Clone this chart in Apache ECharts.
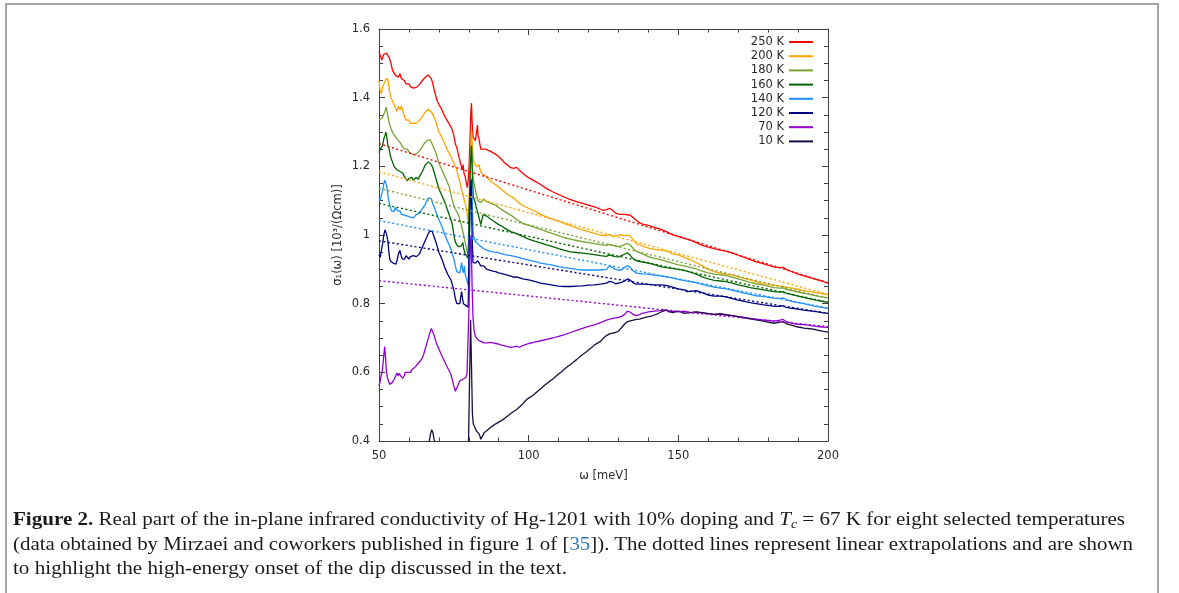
<!DOCTYPE html>
<html>
<head>
<meta charset="utf-8">
<script src="https://cdn.jsdelivr.net/npm/echarts@6/dist/echarts.min.js"></script>
<style>
html,body{margin:0;padding:0;background:#fff;width:1179px;height:593px;overflow:hidden;position:relative;}
#frame{position:absolute;left:5px;top:3px;width:1154px;height:620px;border:2px solid #a4a4a4;box-sizing:border-box;}
#chart{position:absolute;left:0;top:0;width:1179px;height:593px;}
#caption{position:absolute;left:13px;top:507px;font-family:"Liberation Serif","DejaVu Serif",serif;font-size:18.5px;color:#1a1a1a;}
#caption .ln{display:block;white-space:nowrap;height:24.5px;line-height:24.5px;transform-origin:0 50%;width:max-content;}
#caption .ref{color:#2a7ab8;}
#caption sub{font-size:12px;vertical-align:-3px;line-height:0;}
</style>
</head>
<body>
<div id="frame"></div>
<div id="chart"></div>
<div id="caption">
<span class="ln" data-w="1112"><b>Figure 2.</b> Real part of the in-plane infrared conductivity of Hg-1201 with 10% doping and <i>T</i><sub><i>c</i></sub> = 67 K for eight selected temperatures</span>
<span class="ln" data-w="1120">(data obtained by Mirzaei and coworkers published in figure 1 of [<span class="ref">35</span>]). The dotted lines represent linear extrapolations and are shown</span>
<span class="ln" data-w="554">to highlight the high-energy onset of the dip discussed in the text.</span>
</div>
<script>
// ---------- data ----------
const temperatures = ['250 K','200 K','180 K','160 K','140 K','120 K','70 K','10 K'];
const colors = ['#ff0000','#ffa500','#78a232','#006400','#1e90ff','#000080','#9400d3','#1b0f3f'];
const xTicks = [50,100,150,200];
const yTicks = [0.4,0.6,0.8,1.0,1.2,1.4,1.6];

const T250 = [[50,1.535],[50.5,1.52],[51,1.51],[51.5,1.525],[52,1.52],[52.5,1.53],[53,1.525],[53.5,1.515],[54,1.50],[54.5,1.48],[55,1.475],[55.5,1.465],[56,1.47],[56.5,1.46],[57,1.47],[57.5,1.455],[58,1.46],[58.5,1.45],[59,1.44],[59.5,1.435],[60,1.44],[60.5,1.432],[61,1.43],[61.5,1.428],[62,1.425],[62.5,1.43],[63,1.432],[63.5,1.438],[64,1.44],[64.5,1.45],[65,1.455],[65.5,1.46],[66,1.465],[66.5,1.466],[67,1.462],[67.5,1.455],[68,1.44],[68.5,1.42],[69,1.405],[69.5,1.39],[70,1.38],[71,1.365],[72,1.345],[73,1.33],[73.5,1.325],[74,1.315],[74.5,1.305],[75,1.29],[75.5,1.265],[76,1.255],[76.5,1.235],[77,1.23],[77.5,1.2],[77.8,1.19],[78.1,1.205],[78.4,1.18],[78.8,1.17],[79.2,1.15],[79.5,1.138],[79.8,1.16],[80.1,1.2],[80.4,1.28],[80.7,1.36],[80.9,1.384],[81.1,1.33],[81.4,1.285],[81.8,1.28],[82.2,1.275],[82.6,1.27],[82.9,1.32],[83.1,1.29],[83.4,1.28],[83.7,1.265],[84,1.25],[84.5,1.247],[85.5,1.25],[87,1.245],[88,1.24],[89,1.235],[90,1.228],[91,1.22],[92,1.21],[93,1.203],[94,1.196],[95,1.194],[96,1.197],[97,1.188],[98,1.18],[99,1.173],[100,1.167],[102,1.157],[104,1.147],[106,1.135],[108,1.126],[110,1.118],[112,1.11],[114,1.103],[116,1.097],[118,1.092],[120,1.087],[122,1.082],[124,1.075],[125,1.072],[126,1.074],[127,1.078],[128,1.072],[129,1.064],[130,1.061],[131,1.06],[132,1.06],[133,1.059],[134,1.057],[135,1.05],[136,1.042],[137,1.036],[138,1.032],[140,1.028],[142,1.022],[144,1.017],[146,1.01],[148,1.001],[150,0.996],[152,0.99],[154,0.985],[156,0.978],[158,0.97],[160,0.965],[162,0.96],[164,0.956],[166,0.953],[168,0.948],[170,0.941],[172,0.935],[174,0.928],[176,0.922],[178,0.917],[180,0.912],[182,0.907],[184,0.905],[185,0.906],[186,0.9],[188,0.893],[190,0.886],[192,0.881],[194,0.876],[196,0.871],[198,0.866],[200,0.86]];

const T200 = [[50,1.45],[50.4,1.42],[50.8,1.412],[51.2,1.43],[51.6,1.44],[52,1.445],[52.5,1.456],[53,1.45],[53.5,1.42],[54,1.40],[54.5,1.39],[55,1.38],[55.5,1.37],[56,1.36],[56.5,1.375],[57,1.365],[57.5,1.375],[58,1.37],[58.5,1.345],[59,1.335],[59.5,1.33],[60,1.335],[60.5,1.325],[61,1.322],[61.5,1.326],[62,1.322],[62.5,1.325],[63,1.33],[63.5,1.334],[64,1.338],[64.5,1.345],[65,1.352],[65.5,1.358],[66,1.362],[66.5,1.366],[67,1.365],[67.5,1.358],[68,1.35],[68.5,1.34],[69,1.33],[69.5,1.315],[70,1.30],[71,1.285],[72,1.265],[73,1.245],[74,1.23],[74.5,1.218],[75,1.21],[75.5,1.2],[76,1.19],[76.5,1.17],[77,1.155],[77.5,1.135],[78,1.12],[78.5,1.10],[79,1.085],[79.5,1.06],[79.8,1.035],[80.1,1.1],[80.5,1.22],[80.9,1.31],[81.2,1.26],[81.5,1.22],[82,1.205],[82.5,1.21],[83,1.198],[83.4,1.205],[83.8,1.19],[84.3,1.18],[85,1.176],[86,1.168],[87,1.16],[88,1.152],[89,1.146],[90,1.14],[91,1.132],[92,1.125],[93,1.118],[94,1.113],[95,1.108],[96,1.1],[97,1.092],[98,1.086],[100,1.078],[102,1.07],[104,1.06],[106,1.053],[108,1.046],[110,1.04],[112,1.033],[114,1.027],[116,1.021],[118,1.015],[120,1.01],[122,1.005],[124,1.0],[126,0.998],[127,1.002],[128,0.996],[129,0.997],[130,1.0],[131,1.0],[132,0.998],[133,1.0],[134,0.997],[135,0.985],[136,0.975],[138,0.968],[140,0.962],[142,0.958],[144,0.956],[146,0.954],[147,0.95],[148,0.945],[150,0.942],[152,0.935],[154,0.928],[156,0.92],[158,0.91],[160,0.9],[162,0.893],[164,0.889],[166,0.886],[168,0.884],[170,0.879],[172,0.874],[174,0.869],[176,0.864],[178,0.859],[180,0.856],[182,0.853],[184,0.852],[186,0.848],[188,0.845],[190,0.842],[192,0.838],[194,0.835],[196,0.832],[198,0.829],[200,0.826]];

const T180 = [[50,1.335],[50.5,1.33],[51,1.34],[51.5,1.345],[52,1.36],[52.4,1.373],[52.8,1.355],[53.2,1.335],[53.6,1.32],[54,1.31],[54.5,1.3],[55,1.292],[55.5,1.29],[56,1.28],[56.5,1.275],[57,1.27],[57.5,1.262],[58,1.265],[58.5,1.25],[59,1.245],[59.5,1.25],[60,1.242],[60.5,1.24],[61,1.236],[61.5,1.234],[62,1.233],[62.5,1.235],[63,1.24],[63.5,1.245],[64,1.25],[64.5,1.258],[65,1.265],[65.5,1.27],[66,1.275],[66.5,1.279],[67,1.278],[67.5,1.27],[68,1.26],[68.5,1.25],[69,1.24],[69.5,1.225],[70,1.21],[71,1.19],[72,1.17],[73,1.15],[73.5,1.14],[74,1.12],[74.5,1.1],[75,1.085],[75.5,1.075],[76,1.07],[76.5,1.06],[77,1.045],[77.5,1.03],[78,1.01],[78.5,0.99],[79,0.97],[79.5,0.95],[79.8,0.937],[80.1,1.05],[80.5,1.2],[80.9,1.262],[81.2,1.2],[81.5,1.16],[82,1.14],[82.5,1.12],[83,1.1],[83.5,1.105],[84,1.095],[84.5,1.1],[85,1.105],[85.5,1.1],[86,1.097],[87,1.094],[88,1.09],[89,1.087],[90,1.08],[91,1.074],[92,1.068],[93,1.063],[94,1.058],[95,1.052],[96,1.045],[97,1.04],[98,1.034],[100,1.028],[102,1.022],[104,1.016],[106,1.01],[108,1.004],[110,0.998],[112,0.992],[114,0.988],[116,0.984],[118,0.981],[120,0.978],[122,0.975],[124,0.972],[126,0.97],[127,0.973],[128,0.97],[129,0.968],[130,0.966],[131,0.968],[132,0.972],[133,0.976],[134,0.97],[135,0.96],[136,0.952],[138,0.945],[140,0.937],[142,0.932],[144,0.928],[146,0.923],[148,0.918],[150,0.913],[152,0.91],[154,0.906],[156,0.901],[158,0.895],[160,0.89],[162,0.886],[164,0.884],[166,0.882],[168,0.877],[170,0.872],[172,0.867],[174,0.862],[176,0.858],[178,0.855],[180,0.851],[182,0.847],[184,0.845],[185,0.846],[186,0.842],[188,0.838],[190,0.834],[192,0.83],[194,0.827],[196,0.823],[198,0.82],[200,0.817]];

const T160 = [[50,1.24],[50.4,1.25],[50.8,1.245],[51.2,1.26],[51.6,1.28],[52,1.29],[52.3,1.3],[52.6,1.285],[53,1.26],[53.4,1.25],[53.8,1.23],[54.2,1.22],[54.6,1.21],[55,1.2],[55.5,1.205],[56,1.19],[56.5,1.195],[57,1.185],[57.5,1.19],[58,1.18],[58.5,1.17],[59,1.165],[59.5,1.158],[60,1.165],[60.5,1.16],[61,1.168],[61.5,1.16],[62,1.165],[62.5,1.168],[63,1.162],[63.5,1.17],[64,1.175],[64.5,1.185],[65,1.195],[65.5,1.205],[66,1.21],[66.5,1.213],[67,1.212],[67.5,1.205],[68,1.195],[68.5,1.18],[69,1.165],[69.5,1.15],[70,1.135],[71,1.115],[72,1.095],[73,1.07],[74,1.045],[74.5,1.03],[75,1.0],[75.5,0.98],[76,0.972],[76.5,0.966],[77,0.962],[77.5,0.968],[78,0.978],[78.3,0.96],[78.8,0.945],[79.3,0.94],[79.8,0.932],[80.1,1.05],[80.5,1.2],[80.9,1.26],[81.2,1.17],[81.5,1.11],[82,1.1],[82.5,1.08],[83,1.065],[83.5,1.06],[84,1.03],[84.3,1.025],[84.8,1.06],[85.3,1.062],[86,1.055],[87,1.048],[88,1.042],[89,1.036],[90,1.03],[91,1.026],[92,1.02],[93,1.015],[94,1.01],[95,1.007],[96,1.004],[98,0.996],[100,0.988],[102,0.982],[104,0.977],[106,0.971],[108,0.966],[110,0.96],[112,0.955],[114,0.951],[116,0.949],[118,0.947],[120,0.945],[122,0.943],[124,0.94],[126,0.938],[127,0.942],[128,0.939],[129,0.937],[130,0.936],[131,0.94],[132,0.944],[133,0.948],[134,0.94],[135,0.93],[136,0.925],[138,0.921],[140,0.918],[142,0.914],[144,0.908],[146,0.905],[148,0.903],[150,0.9],[152,0.897],[154,0.892],[156,0.886],[158,0.878],[160,0.872],[162,0.868],[164,0.866],[166,0.864],[168,0.86],[170,0.855],[172,0.851],[174,0.847],[176,0.844],[178,0.841],[180,0.838],[182,0.835],[184,0.834],[185,0.835],[186,0.831],[188,0.826],[190,0.822],[192,0.818],[194,0.814],[196,0.81],[198,0.807],[200,0.804]];

const T140 = [[50,1.11],[50.4,1.1],[50.8,1.115],[51.2,1.13],[51.6,1.15],[52,1.16],[52.3,1.16],[52.6,1.14],[53,1.115],[53.4,1.095],[53.8,1.08],[54.2,1.07],[54.6,1.075],[55,1.068],[55.4,1.08],[55.8,1.082],[56.2,1.07],[56.6,1.065],[57,1.07],[57.5,1.06],[58,1.065],[58.5,1.058],[59,1.063],[59.5,1.055],[60,1.05],[60.5,1.052],[61,1.048],[61.5,1.05],[62,1.055],[62.5,1.06],[63,1.058],[63.5,1.063],[64,1.07],[64.5,1.077],[65,1.083],[65.5,1.09],[66,1.1],[66.5,1.108],[67,1.112],[67.5,1.105],[68,1.09],[68.5,1.08],[69,1.068],[69.5,1.055],[70,1.045],[71,1.025],[72,1.0],[73,0.98],[73.5,0.97],[74,0.96],[74.5,0.945],[75,0.932],[75.5,0.91],[76,0.893],[76.5,0.889],[77,0.89],[77.3,0.905],[77.6,0.92],[77.9,0.9],[78.2,0.89],[78.5,0.91],[78.8,0.885],[79.3,0.87],[79.8,0.855],[80.1,0.98],[80.5,1.12],[80.9,1.165],[81.2,1.08],[81.5,1.0],[82,0.985],[82.5,0.978],[83,0.982],[83.5,0.97],[84,0.965],[85,0.96],[86,0.956],[87,0.953],[88,0.951],[89,0.95],[90,0.948],[92,0.943],[94,0.94],[96,0.936],[98,0.931],[100,0.927],[102,0.923],[104,0.918],[106,0.915],[108,0.912],[110,0.908],[112,0.905],[114,0.903],[116,0.9],[118,0.898],[120,0.898],[122,0.898],[124,0.898],[126,0.9],[127,0.91],[127.5,0.915],[128,0.905],[129,0.9],[130,0.898],[131,0.898],[132,0.905],[133,0.911],[134,0.905],[135,0.895],[136,0.889],[138,0.887],[140,0.886],[142,0.883],[144,0.881],[146,0.878],[148,0.875],[150,0.871],[152,0.867],[154,0.864],[156,0.861],[158,0.856],[160,0.852],[162,0.848],[164,0.845],[166,0.843],[168,0.839],[170,0.835],[172,0.831],[174,0.827],[176,0.823],[178,0.821],[180,0.819],[182,0.816],[184,0.815],[185,0.817],[186,0.812],[188,0.807],[190,0.803],[192,0.8],[194,0.796],[196,0.792],[198,0.789],[200,0.786]];

const T120 = [[50,0.942],[50.4,0.935],[50.8,0.955],[51.2,0.975],[51.6,1.0],[52,1.015],[52.3,1.02],[52.6,1.0],[53,0.98],[53.3,0.95],[53.6,0.93],[54,0.922],[54.4,0.925],[54.8,0.918],[55.2,0.92],[55.6,0.915],[56,0.925],[56.5,0.945],[57,0.955],[57.4,0.94],[57.8,0.93],[58.2,0.935],[58.6,0.93],[59,0.94],[59.5,0.935],[60,0.93],[60.5,0.937],[61,0.933],[61.5,0.94],[62,0.936],[62.5,0.937],[63,0.94],[63.5,0.945],[64,0.955],[64.5,0.965],[65,0.975],[65.5,0.985],[66,0.995],[66.5,1.005],[67,1.012],[67.4,1.016],[67.8,1.01],[68.2,1.0],[68.6,0.99],[69,0.98],[69.5,0.965],[70,0.95],[71,0.93],[72,0.905],[73,0.885],[73.5,0.877],[74,0.87],[74.5,0.855],[75,0.84],[75.5,0.815],[76,0.8],[76.5,0.797],[77,0.8],[77.3,0.82],[77.6,0.835],[77.9,0.815],[78.2,0.8],[78.6,0.795],[79,0.795],[79.4,0.792],[79.8,0.79],[80.1,0.95],[80.5,1.12],[80.8,1.16],[81.1,1.0],[81.4,0.92],[81.8,0.925],[82.2,0.918],[82.6,0.915],[83,0.925],[83.5,0.927],[84,0.91],[84.5,0.905],[85,0.91],[86,0.9],[87,0.898],[88,0.895],[89,0.893],[90,0.89],[92,0.885],[94,0.88],[95,0.877],[96,0.878],[98,0.872],[100,0.869],[102,0.865],[104,0.86],[106,0.857],[108,0.854],[110,0.851],[112,0.85],[114,0.85],[116,0.851],[118,0.852],[120,0.854],[122,0.855],[124,0.857],[126,0.86],[127,0.865],[128,0.863],[129,0.858],[130,0.86],[131,0.862],[132,0.866],[133,0.872],[134,0.868],[135,0.86],[136,0.857],[138,0.857],[140,0.856],[142,0.855],[144,0.855],[146,0.853],[148,0.848],[150,0.843],[152,0.84],[153,0.835],[154,0.836],[156,0.838],[158,0.832],[160,0.825],[162,0.822],[164,0.822],[166,0.82],[168,0.815],[170,0.81],[172,0.807],[174,0.803],[176,0.8],[178,0.797],[180,0.795],[182,0.792],[184,0.792],[185,0.794],[186,0.789],[188,0.786],[190,0.784],[192,0.781],[194,0.779],[196,0.777],[198,0.774],[200,0.772]];

const T70 = [[50,0.56],[50.3,0.57],[50.6,0.585],[51,0.6],[51.3,0.62],[51.6,0.65],[51.9,0.675],[52.2,0.64],[52.5,0.6],[52.8,0.585],[53.2,0.575],[53.6,0.565],[54,0.57],[54.4,0.57],[54.8,0.575],[55.2,0.582],[55.6,0.59],[56,0.598],[56.4,0.59],[56.8,0.597],[57.2,0.59],[57.6,0.585],[58,0.583],[58.4,0.59],[58.8,0.6],[59.2,0.595],[59.6,0.6],[60,0.605],[60.5,0.6],[61,0.608],[61.5,0.612],[62,0.615],[62.5,0.62],[63,0.625],[63.5,0.63],[64,0.636],[64.5,0.642],[65,0.655],[65.5,0.67],[66,0.685],[66.5,0.7],[67,0.715],[67.5,0.728],[67.8,0.732],[68.1,0.725],[68.5,0.705],[69,0.69],[69.5,0.678],[70,0.668],[71,0.648],[72,0.63],[73,0.612],[74,0.595],[74.5,0.578],[75,0.56],[75.5,0.545],[76,0.55],[76.5,0.565],[77,0.575],[77.5,0.57],[78,0.58],[78.5,0.575],[79,0.585],[79.4,0.595],[79.8,0.6],[80.1,0.8],[80.5,0.98],[80.8,1.0],[81.1,0.85],[81.4,0.76],[81.8,0.72],[82.2,0.705],[82.6,0.71],[83,0.695],[83.5,0.7],[84,0.69],[84.5,0.685],[85,0.686],[86,0.686],[87,0.687],[88,0.686],[89,0.684],[90,0.682],[91,0.679],[92,0.677],[93,0.675],[94,0.673],[95,0.674],[96,0.676],[97,0.673],[98,0.678],[99,0.681],[100,0.684],[102,0.688],[104,0.692],[106,0.696],[108,0.7],[110,0.705],[112,0.71],[114,0.716],[116,0.722],[118,0.728],[120,0.734],[122,0.738],[124,0.745],[126,0.752],[128,0.757],[130,0.76],[131,0.763],[132,0.768],[133,0.778],[133.5,0.78],[134,0.775],[135,0.768],[136,0.765],[137,0.768],[138,0.772],[140,0.776],[142,0.778],[144,0.78],[145,0.782],[146,0.78],[147,0.775],[148,0.778],[150,0.776],[152,0.778],[154,0.774],[156,0.775],[158,0.773],[160,0.771],[162,0.769],[164,0.769],[166,0.767],[168,0.765],[170,0.762],[172,0.76],[174,0.757],[176,0.755],[178,0.753],[180,0.751],[182,0.749],[184,0.752],[185,0.754],[186,0.748],[188,0.743],[190,0.74],[192,0.739],[194,0.737],[196,0.734],[198,0.732],[200,0.731]];

const T10 = [[66.6,0.39],[67.2,0.42],[67.6,0.433],[68.0,0.425],[68.4,0.405],[68.8,0.39],null,[79.9,0.39],[80.2,0.55],[80.6,0.753],[80.9,0.62],[81.2,0.48],[81.5,0.45],[82,0.44],[82.5,0.43],[83,0.435],[83.5,0.42],[84,0.405],[84.3,0.4],[84.6,0.415],[85.2,0.425],[86,0.43],[87,0.438],[88,0.444],[89,0.45],[90,0.455],[91,0.46],[92,0.466],[93,0.473],[94,0.48],[95,0.486],[96,0.492],[97,0.5],[98,0.508],[99,0.518],[100,0.525],[101,0.53],[102,0.537],[103,0.545],[104,0.552],[105,0.56],[106,0.567],[107,0.574],[108,0.58],[109,0.588],[110,0.595],[111,0.602],[112,0.61],[113,0.617],[114,0.623],[115,0.63],[116,0.637],[117,0.645],[118,0.652],[119,0.658],[120,0.665],[121,0.672],[122,0.68],[123,0.685],[124,0.69],[125,0.7],[126,0.707],[127,0.712],[128,0.714],[129,0.716],[130,0.72],[131,0.73],[132,0.74],[133,0.748],[134,0.75],[135,0.752],[136,0.754],[137,0.755],[138,0.758],[139,0.76],[140,0.762],[141,0.764],[142,0.767],[143,0.77],[144,0.775],[145,0.778],[146,0.782],[147,0.778],[148,0.774],[149,0.776],[150,0.778],[151,0.775],[152,0.772],[154,0.774],[156,0.776],[158,0.774],[160,0.771],[162,0.769],[164,0.771],[166,0.768],[168,0.765],[170,0.762],[172,0.759],[174,0.756],[176,0.753],[178,0.75],[180,0.746],[182,0.743],[184,0.746],[185,0.748],[186,0.742],[188,0.737],[190,0.732],[192,0.729],[194,0.727],[196,0.724],[198,0.72],[200,0.717]];

// linear extrapolations (dotted)
const fit250 = [[50,1.266],[200,0.861]];
const fit200 = [[50,1.184],[200,0.827]];
const fit180 = [[50,1.136],[200,0.816]];
const fit160 = [[50,1.092],[200,0.804]];
const fit140 = [[50,1.042],[200,0.787]];
const fit120 = [[50,0.983],[200,0.772]];
const fit70  = [[50,0.867],[200,0.733]];

const measured = [T250,T200,T180,T160,T140,T120,T70,T10];
const fits = [fit250,fit200,fit180,fit160,fit140,fit120,fit70];

// ---------- chart ----------
const FONT = 'DejaVu Sans';
const TXT = '#2b2b2b';
const AX = '#404040';
const chart = echarts.init(document.getElementById('chart'), null, {renderer:'canvas'});

function xAxisDef(pos, labels){
  return {
    type:'value', position:pos, min:xTicks[0], max:xTicks[xTicks.length-1], interval:xTicks[1]-xTicks[0],
    axisLine:{show:true, onZero:false, lineStyle:{color:AX, width:1}},
    axisTick:{show:true, inside:true, length:6, lineStyle:{color:AX}},
    minorTick:{show:true, splitNumber:5, length:3.5, lineStyle:{color:AX}},
    splitLine:{show:false},
    axisLabel:{show:labels, margin:9, fontSize:11.5, color:TXT, fontFamily:FONT},
    name: labels ? 'ω [meV]' : '', nameLocation:'middle', nameGap:29,
    nameTextStyle:{fontSize:11.5, color:TXT, fontFamily:FONT}
  };
}
function yAxisDef(pos, labels){
  return {
    type:'value', position:pos, min:yTicks[0], max:yTicks[yTicks.length-1], interval:0.2,
    axisLine:{show:true, onZero:false, lineStyle:{color:AX, width:1}},
    axisTick:{show:true, inside:true, length:6, lineStyle:{color:AX}},
    minorTick:{show:true, splitNumber:4, length:4, lineStyle:{color:AX}},
    splitLine:{show:false},
    axisLabel:{show:labels, margin:9, fontSize:11.5, color:TXT, fontFamily:FONT,
      formatter:function(v){return String(parseFloat(v.toFixed(1)));}},
    name: labels ? 'σ₁(ω) [10³/(Ωcm)]' : '', nameLocation:'middle', nameRotate:90, nameGap:35,
    nameTextStyle:{fontSize:11.5, color:TXT, fontFamily:FONT}
  };
}

const series = [];
measured.forEach(function(d,i){
  series.push({
    name: temperatures[i], type:'line', data:d, xAxisIndex:0, yAxisIndex:0,
    showSymbol:false, symbol:'none', clip:true, connectNulls:false,
    color: colors[i], lineStyle:{color:colors[i], width:1.3}, z:2+i
  });
});
fits.forEach(function(d,i){
  series.push({
    name: 'fit ' + temperatures[i], type:'line', data:d, xAxisIndex:0, yAxisIndex:0,
    showSymbol:false, symbol:'none', clip:true, silent:true,
    color: colors[i], lineStyle:{color:colors[i], width:1.4, type:[2,2.5]}, z:12
  });
});

chart.setOption({
  animation:false,
  backgroundColor:'transparent',
  grid:{left:379, right:351, top:29, bottom:152, containLabel:false},
  xAxis:[xAxisDef('bottom', true), xAxisDef('top', false)],
  yAxis:[yAxisDef('left', true), yAxisDef('right', false)],
  legend:{
    orient:'vertical', right:366, top:36, align:'right', icon:'rect',
    itemWidth:24, itemHeight:2, itemGap:2.2, padding:0, selectedMode:false,
    textStyle:{fontSize:11.5, lineHeight:12, color:TXT, fontFamily:FONT},
    data: temperatures
  },
  series: series
});

// fit caption lines to their measured widths in the reference
document.querySelectorAll('#caption .ln').forEach(function(el){
  const target = parseFloat(el.getAttribute('data-w'));
  const w = el.getBoundingClientRect().width;
  if (w > 0) el.style.transform = 'scaleX(' + (target / w) + ')';
});
</script>
</body>
</html>
